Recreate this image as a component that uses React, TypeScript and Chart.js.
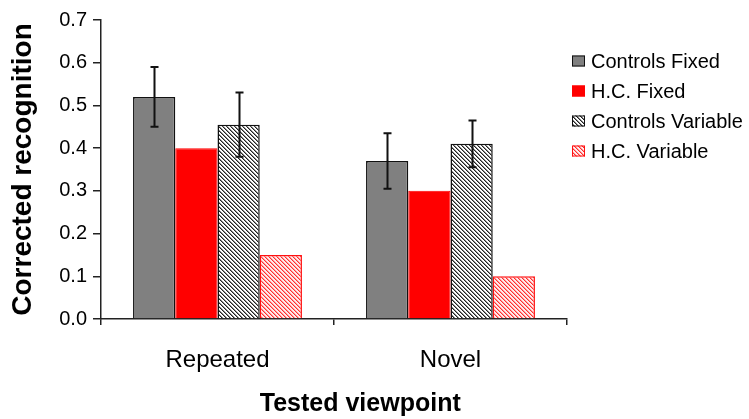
import React, { useEffect, useRef } from 'react';
import { Chart, registerables } from 'chart.js';

Chart.register(...registerables);

const categories = ['Repeated', 'Novel'];
const seriesLabels = ['Controls Fixed', 'H.C. Fixed', 'Controls Variable', 'H.C. Variable'];
const controlsFixed = [0.52, 0.37];
const controlsFixedErr = [0.07, 0.065];
const hcFixed = [0.4, 0.3];
const controlsVariable = [0.455, 0.41];
const controlsVariableErr = [0.075, 0.055];
const hcVariable = [0.15, 0.1];
const yMax = 0.7;
const yStep = 0.1;
const xTitle = 'Tested viewpoint';
const yTitle = 'Corrected recognition';

const FONT = '"Liberation Sans", Arial, sans-serif';

function makeHatch(ctx: CanvasRenderingContext2D, dark: string, mid: string, bg: string) {
  const c = document.createElement('canvas');
  c.width = 4;
  c.height = 4;
  const g = c.getContext('2d')!;
  g.fillStyle = bg;
  g.fillRect(0, 0, 4, 4);
  for (let y = 0; y < 4; y++) {
    g.fillStyle = dark;
    g.fillRect(y, y, 1, 1);
    g.fillStyle = mid;
    g.fillRect((y + 1) % 4, y, 1, 1);
  }
  return ctx.createPattern(c, 'repeat') as CanvasPattern;
}

const errorBarPlugin = {
  id: 'errorBars',
  afterDatasetsDraw(chart: any) {
    const ctx = chart.ctx;
    const yScale = chart.scales.y;
    ctx.save();
    ctx.strokeStyle = '#111';
    ctx.lineWidth = 2;
    chart.data.datasets.forEach((ds: any, i: number) => {
      if (!ds.errors) return;
      const meta = chart.getDatasetMeta(i);
      meta.data.forEach((el: any, j: number) => {
        const v = ds.data[j];
        const e = ds.errors[j];
        const x = Math.round(el.x) + 0.5;
        const yt = yScale.getPixelForValue(v + e);
        const yb = yScale.getPixelForValue(v - e);
        ctx.beginPath();
        ctx.moveTo(x, yt);
        ctx.lineTo(x, yb);
        ctx.moveTo(x - 4, yt);
        ctx.lineTo(x + 4, yt);
        ctx.moveTo(x - 4, yb);
        ctx.lineTo(x + 4, yb);
        ctx.stroke();
      });
    });
    ctx.restore();
  },
};

const legendPlugin = {
  id: 'sideLegend',
  afterDraw(chart: any) {
    const ctx = chart.ctx;
    const area = chart.chartArea;
    ctx.save();
    ctx.font = `20px ${FONT}`;
    ctx.textBaseline = 'middle';
    ctx.textAlign = 'left';
    chart.data.datasets.forEach((ds: any, i: number) => {
      const y = area.top + 41 + i * 30;
      const bx = area.right + 5;
      ctx.fillStyle = ds.backgroundColor;
      ctx.fillRect(bx, y - 5.5, 13, 11);
      ctx.strokeStyle = ds.borderColor;
      ctx.lineWidth = 1;
      ctx.strokeRect(bx + 0.5, y - 5, 12, 10);
      ctx.fillStyle = '#000';
      ctx.fillText(ds.label, bx + 19, y + 1);
    });
    // x axis title, centred under the whole figure as in the original
    ctx.font = `bold 25px ${FONT}`;
    ctx.textAlign = 'center';
    ctx.textBaseline = 'middle';
    ctx.fillText(xTitle, chart.width * 0.481, 404);
    ctx.restore();
  },
};

export default function App() {
  const ref = useRef<HTMLCanvasElement>(null);

  useEffect(() => {
    const canvas = ref.current!;
    const ctx = canvas.getContext('2d')!;
    const grayHatch = makeHatch(ctx, '#222222', '#8a8a8a', '#ffffff');
    const redHatch = makeHatch(ctx, '#ff3030', '#ff9a9a', '#ffecec');

    const chart = new Chart(canvas, {
      type: 'bar',
      data: {
        labels: categories,
        datasets: [
          {
            label: seriesLabels[0],
            data: controlsFixed,
            errors: controlsFixedErr,
            backgroundColor: '#808080',
            borderColor: '#111111',
            borderWidth: 1.5,
          } as any,
          {
            label: seriesLabels[1],
            data: hcFixed,
            backgroundColor: '#ff0000',
            borderColor: '#ff0000',
            borderWidth: 1,
          },
          {
            label: seriesLabels[2],
            data: controlsVariable,
            errors: controlsVariableErr,
            backgroundColor: grayHatch,
            borderColor: '#111111',
            borderWidth: 1.5,
          } as any,
          {
            label: seriesLabels[3],
            data: hcVariable,
            backgroundColor: redHatch,
            borderColor: '#ff1010',
            borderWidth: 1.5,
          },
        ],
      },
      options: {
        animation: false,
        responsive: true,
        maintainAspectRatio: false,
        layout: { padding: { top: 20, right: 182, left: 0, bottom: 0 } },
        datasets: {
          bar: { categoryPercentage: 0.725, barPercentage: 1.0 },
        },
        plugins: {
          legend: { display: false },
          tooltip: { enabled: false },
        },
        scales: {
          x: {
            offset: true,
            grid: {
              display: true,
              offset: true,
              drawOnChartArea: false,
              drawTicks: true,
              tickLength: 6,
              color: '#222',
              lineWidth: 1.5,
            },
            border: { display: true, color: '#222', width: 1.5 },
            ticks: {
              color: '#000',
              font: { family: FONT, size: 24 },
              padding: 21,
              maxRotation: 0,
            },
            title: { display: false },
            afterFit: (s: any) => {
              s.height = 100;
            },
          },
          y: {
            min: 0,
            max: yMax,
            grid: {
              display: true,
              drawOnChartArea: false,
              drawTicks: true,
              tickLength: 8,
              color: '#222',
              lineWidth: 1.5,
            },
            border: { display: true, color: '#222', width: 1.5 },
            ticks: {
              stepSize: yStep,
              color: '#000',
              font: { family: FONT, size: 20 },
              padding: 6,
              callback: (v: any) => Number(v).toFixed(1),
            },
            title: {
              display: true,
              text: yTitle,
              color: '#000',
              font: { family: FONT, size: 28, weight: 'bold' },
              padding: { top: 6, bottom: 0 },
            },
            afterFit: (s: any) => {
              s.width = 101;
            },
          },
        },
      } as any,
      plugins: [errorBarPlugin, legendPlugin],
    });
    return () => chart.destroy();
  }, []);

  return (
    <div style={{ position: 'absolute', left: 0, top: 0, width: 749, height: 419 }}>
      <canvas ref={ref} />
    </div>
  );
}
